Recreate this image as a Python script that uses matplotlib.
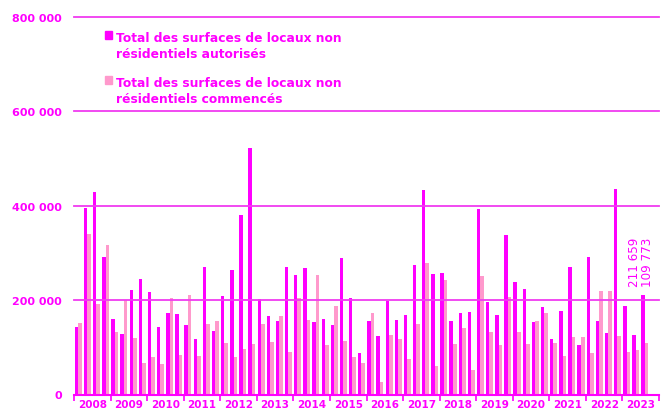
import numpy as np
import matplotlib.pyplot as plt
from matplotlib.patches import Rectangle

MAGENTA = '#FF00FF'
PINK = '#FF99CC'
GRID = '#F03CF0'

# années (trimestres 2008 T1 -> 2023 T3)
years = [str(y) for y in range(2008, 2024)]

# surfaces autorisées (m²), par trimestre
autorises = [142000, 395000, 429000, 292000,
             161000, 128000, 222000, 245000,
             217000, 142000, 173000, 171000,
             147000, 118000, 271000, 134000,
             209000, 263000, 381000, 522000,
             202000, 166000, 155000, 271000,
             254000, 269000, 154000, 161000,
             147000, 290000, 204000, 89000,
             156000, 123000, 198000, 157000,
             169000, 275000, 433000, 255000,
             258000, 156000, 173000, 175000,
             393000, 197000, 168000, 339000,
             238000, 224000, 154000, 186000,
             118000, 178000, 271000, 104000,
             291000, 156000, 130000, 435000,
             188000, 126000, 211659]

# surfaces commencées (m²), par trimestre
commences = [151000, 341000, 192000, 317000,
             133000, 200000, 120000, 66000,
             79000, 65000, 204000, 84000,
             210000, 81000, 149000, 156000,
             109000, 80000, 96000, 107000,
             149000, 111000, 166000, 91000,
             204000, 157000, 254000, 105000,
             188000, 113000, 79000, 66000,
             172000, 27000, 127000, 118000,
             75000, 149000, 278000, 60000,
             243000, 107000, 141000, 52000,
             252000, 132000, 104000, 207000,
             133000, 108000, 156000, 173000,
             109000, 82000, 122000, 122000,
             88000, 219000, 219000, 123000,
             91000, 95000, 109773]

W, H = 669, 410
fig = plt.figure(figsize=(W / 100, H / 100), dpi=100)
ax = fig.add_axes([74 / W, 14.5 / H, 585 / W, 377.5 / H])

x = np.arange(len(autorises))
ax.bar(x + 0.08, autorises, width=0.37, align='edge', color=MAGENTA, zorder=2)
ax.bar(x + 0.45, commences, width=0.40, align='edge', color=PINK, zorder=2)

ax.set_xlim(0, 4 * len(years))
ax.set_ylim(0, 800000)

# grille horizontale
for v in [200000, 400000, 600000, 800000]:
    ax.axhline(v, color=GRID, lw=1.3, zorder=3, clip_on=False)

ax.set_yticks([0, 200000, 400000, 600000, 800000])
ax.set_yticklabels(['0', '200 000', '400 000', '600 000', '800 000'])
ax.tick_params(axis='y', length=0, pad=8.5, labelcolor=MAGENTA,
               labelsize=8)
for t in ax.get_yticklabels():
    t.set_fontweight('bold')

# axe des x : séparateurs d'années + libellés centrés
ax.set_xticks(np.arange(0, 4 * len(years) + 1, 4))
ax.set_xticklabels([])
ax.set_xticks(np.arange(2, 4 * len(years), 4), minor=True)
ax.set_xticklabels(years, minor=True)
ax.tick_params(axis='x', which='major', length=4, width=1.2, color=MAGENTA)
ax.tick_params(axis='x', which='minor', length=0, pad=3.5, labelcolor=MAGENTA,
               labelsize=7.5)
for t in ax.get_xticklabels(minor=True):
    t.set_fontweight('bold')

for s in ['left', 'right', 'top']:
    ax.spines[s].set_visible(False)
ax.spines['bottom'].set_color(MAGENTA)
ax.spines['bottom'].set_linewidth(1.5)
ax.spines['bottom'].set_zorder(4)

# valeurs du dernier trimestre
last = len(autorises) - 1
ax.text(last - 0.72, 230000, '211 659', rotation=90, ha='center', va='bottom',
        color=MAGENTA, fontsize=8.6)
ax.text(last + 0.72, 230000, '109 773', rotation=90, ha='center', va='bottom',
        color=MAGENTA, fontsize=8.6)

# légende
legend = [(MAGENTA, 40, ['Total des surfaces de locaux non',
                         'résidentiels autorisés']),
          (PINK, 85, ['Total des surfaces de locaux non',
                      'résidentiels commencés'])]
for col, ybot, lines in legend:
    fig.add_artist(Rectangle((104.5 / W, 1 - ybot / H), 7.3 / W, 7.7 / H,
                             transform=fig.transFigure, color=col))
    for k, line in enumerate(lines):
        fig.text(116 / W, 1 - (ybot + 1.7 + 16.7 * k) / H, line,
                 va='baseline', ha='left', color=MAGENTA, fontsize=8.8,
                 fontweight='bold')

fig.savefig('out.png', dpi=100)
